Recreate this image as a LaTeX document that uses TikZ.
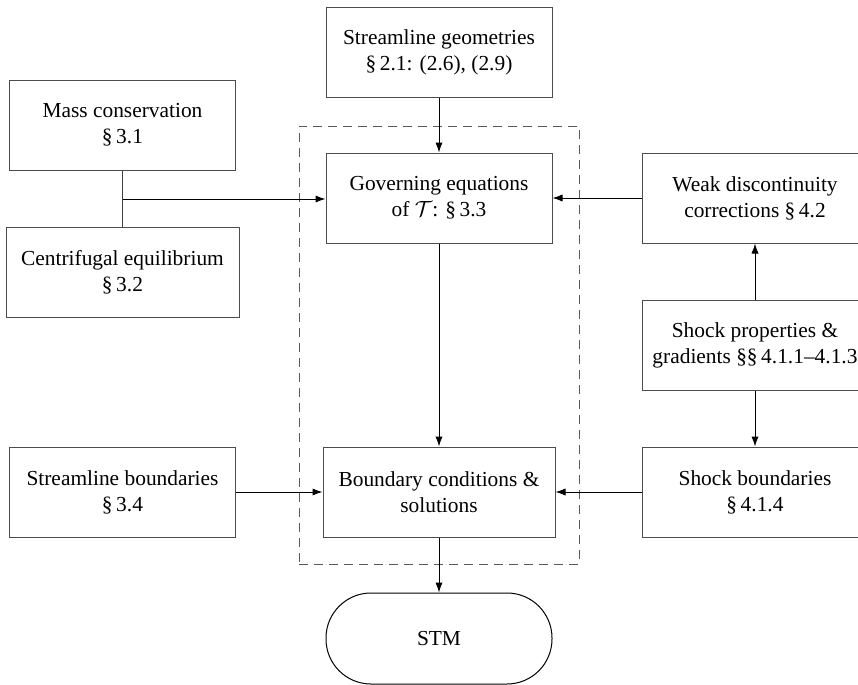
\documentclass[tikz,border=0pt]{standalone}
\usepackage{fontspec}
\setmainfont{Liberation Serif}
\usetikzlibrary{arrows.meta}

\begin{document}
\begin{tikzpicture}[x=0.5pt, y=-0.5pt,
  font=\fontsize{10.7}{13}\selectfont,
  box/.style={rectangle, draw=black!70, line width=0.5pt, minimum width=113pt, minimum height=45pt, align=center, inner sep=2pt},
  arr/.style={-{Latex[length=5pt,width=3.6pt]}, line width=0.5pt, black},
  lnk/.style={line width=0.5pt, black!75}]
\useasboundingbox (0,0) rectangle (858,685);

% dashed frame round the core
\node[draw=black!65, dashed, dash pattern=on 4.5pt off 3pt, line width=0.5pt, minimum width=140pt, minimum height=219pt, inner sep=0pt](core) at (439,345) {};

\node[box](geom) at (439,52) {Streamline geometries\\ \S\,2.1: (2.6), (2.9)};
\node[box](mass) at (122.5,125) {Mass conservation\\ \S\,3.1};
\node[box, minimum width=116.5pt](centri) at (122.5,272) {Centrifugal equilibrium\\ \S\,3.2};
\node[box](gov) at (439,198) {Governing equations\\ of $\mathcal{T}$: \S\,3.3};
\node[box](weak) at (755,198) {Weak discontinuity\\ corrections \S\,4.2};
\node[box](shockp) at (755,345) {Shock properties \&\\ gradients \S\S\,4.1.1--4.1.3};
\node[box](shockb) at (755,492) {Shock boundaries\\ \S\,4.1.4};
\node[box](streamb) at (122.5,492) {Streamline boundaries\\ \S\,3.4};
\node[box, minimum width=116pt](bc) at (439,492) {Boundary conditions \&\\ solutions};
\node[draw=black, line width=0.5pt, rounded corners=22.5pt, minimum width=113pt, minimum height=45.5pt](stm) at (439,638.5) {STM};

\coordinate (join) at (122.5,199);

\draw[lnk] (mass) to (centri);
\draw[arr] (join) to (gov.west |- join);
\draw[arr] (geom) to (gov);
\draw[arr] (weak) to (gov);
\draw[arr] (shockp) to (weak);
\draw[arr] (shockp) to (shockb);
\draw[arr] (gov) to (bc);
\draw[arr] (streamb) to (bc);
\draw[arr] (shockb) to (bc);
\draw[arr] (bc) to (stm);

\end{tikzpicture}
\end{document}
